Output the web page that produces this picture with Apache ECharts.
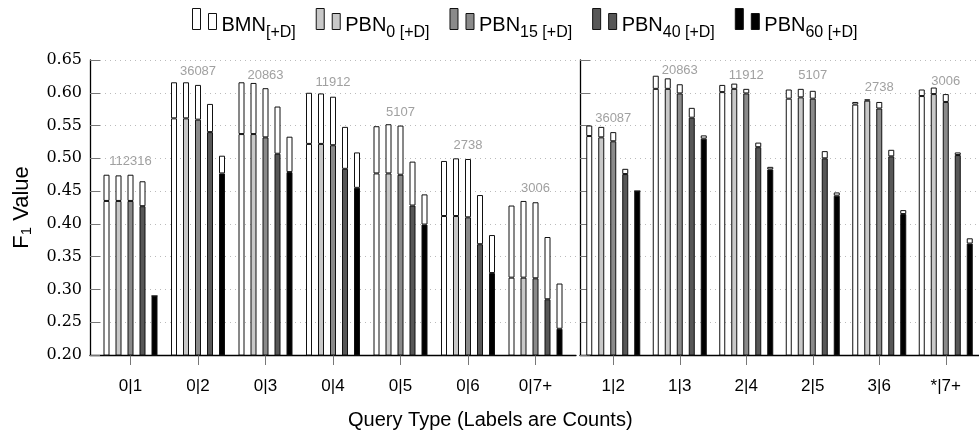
<!DOCTYPE html>
<html>
<head>
<meta charset="utf-8">
<script src="https://cdn.jsdelivr.net/npm/echarts@6/dist/echarts.min.js"></script>
<style>
  html, body { margin: 0; padding: 0; background: #fff; }
  #main { width: 979px; height: 436px; }
</style>
</head>
<body>
<div id="main"></div>
<script>
// query types of the two panels
const leftTypes = ['0|1', '0|2', '0|3', '0|4', '0|5', '0|6', '0|7+'];
const rightTypes = ['1|2', '1|3', '2|4', '2|5', '3|6', '*|7+'];
const leftCounts = [112316, 36087, 20863, 11912, 5107, 2738, 3006];
const rightCounts = [36087, 20863, 11912, 5107, 2738, 3006];
// height where the count label sits
const leftCountY = [0.495, 0.633, 0.627, 0.616, 0.570, 0.519, 0.454];
const rightCountY = [0.561, 0.634, 0.627, 0.626, 0.608, 0.618];

const names = ['BMN', 'PBN0', 'PBN15', 'PBN40', 'PBN60'];
const colors = ['#ffffff', '#c8c8c8', '#8a8a8a', '#575757', '#000000'];

// F1 value without [+D] (coloured part) and with [+D] (top of white part)
const bmnLeft = [0.435, 0.561, 0.537, 0.522, 0.477, 0.412, 0.318];
const bmnLeftD = [0.475, 0.616, 0.616, 0.600, 0.549, 0.496, 0.428];
const pbn0Left = [0.435, 0.561, 0.537, 0.522, 0.477, 0.412, 0.318];
const pbn0LeftD = [0.474, 0.616, 0.615, 0.599, 0.552, 0.500, 0.435];
const pbn15Left = [0.435, 0.559, 0.532, 0.520, 0.475, 0.410, 0.317];
const pbn15LeftD = [0.475, 0.612, 0.607, 0.594, 0.550, 0.499, 0.433];
const pbn40Left = [0.427, 0.540, 0.507, 0.484, 0.428, 0.369, 0.285];
const pbn40LeftD = [0.465, 0.583, 0.579, 0.548, 0.495, 0.444, 0.380];
const pbn60Left = [0.290, 0.477, 0.479, 0.455, 0.399, 0.325, 0.240];
const pbn60LeftD = [0.290, 0.504, 0.533, 0.509, 0.445, 0.383, 0.309];

const bmnRight = [0.534, 0.606, 0.601, 0.591, 0.582, 0.595];
const bmnRightD = [0.550, 0.626, 0.612, 0.605, 0.586, 0.605];
const pbn0Right = [0.532, 0.606, 0.606, 0.593, 0.588, 0.598];
const pbn0RightD = [0.548, 0.622, 0.614, 0.606, 0.590, 0.608];
const pbn15Right = [0.526, 0.599, 0.599, 0.591, 0.576, 0.586];
const pbn15RightD = [0.540, 0.613, 0.606, 0.603, 0.586, 0.598];
const pbn40Right = [0.476, 0.562, 0.517, 0.500, 0.503, 0.505];
const pbn40RightD = [0.484, 0.577, 0.524, 0.511, 0.513, 0.509];
const pbn60Right = [0.450, 0.530, 0.483, 0.443, 0.415, 0.370];
const pbn60RightD = [0.450, 0.535, 0.487, 0.448, 0.421, 0.378];

const panels = [
    {types: leftTypes, counts: leftCounts, countY: leftCountY,
     base: [bmnLeft, pbn0Left, pbn15Left, pbn40Left, pbn60Left],
     plus: [bmnLeftD, pbn0LeftD, pbn15LeftD, pbn40LeftD, pbn60LeftD]},
    {types: rightTypes, counts: rightCounts, countY: rightCountY,
     base: [bmnRight, pbn0Right, pbn15Right, pbn40Right, pbn60Right],
     plus: [bmnRightD, pbn0RightD, pbn15RightD, pbn40RightD, pbn60RightD]}
];

const legendText = {
    'BMN': '{m|BMN}{s|[+D]}',
    'PBN0': '{m|PBN}{s|0 [+D]}',
    'PBN15': '{m|PBN}{s|15 [+D]}',
    'PBN40': '{m|PBN}{s|40 [+D]}',
    'PBN60': '{m|PBN}{s|60 [+D]}'
};

const font = 'Liberation Sans';
const series = [];
panels.forEach(function (p, pi) {
    names.forEach(function (n, k) {
        // value first so that the stack goes on y
        series.push({
            type: 'bar', name: n, xAxisIndex: pi, yAxisIndex: pi,
            stack: 'p' + pi + 's' + k, barWidth: 6, barGap: '100%',
            encode: {x: 1, y: 0},
            itemStyle: {color: colors[k], borderColor: '#111', borderWidth: 1},
            data: p.base[k].map(function (v, i) { return [v, i]; })
        });
        series.push({
            type: 'bar', name: n + ' +D', xAxisIndex: pi, yAxisIndex: pi,
            stack: 'p' + pi + 's' + k, barWidth: 6, barGap: '100%',
            encode: {x: 1, y: 0},
            itemStyle: {color: '#ffffff', borderColor: '#111', borderWidth: 1},
            data: p.plus[k].map(function (v, i) { return [+(v - p.base[k][i]).toFixed(4), i]; })
        });
    });
    series.push({
        type: 'scatter', name: 'counts' + pi, xAxisIndex: pi, yAxisIndex: pi,
        symbolSize: 1, itemStyle: {color: 'rgba(0,0,0,0)'}, silent: true,
        label: {
            show: true, position: 'inside', color: '#888', fontSize: 13, fontFamily: font,
            formatter: function (d) { return String(p.counts[d.dataIndex]); }
        },
        data: p.countY.map(function (v, i) { return [i, v]; })
    });
});

const legendData = [];
names.forEach(function (n, k) {
    const st = {color: colors[k], borderColor: '#111', borderWidth: 1};
    legendData.push({name: n + ' +D', icon: 'rect', itemStyle: st});
    legendData.push({name: n, icon: 'path://M0,0M0,5L8,5L8,21L0,21Z', itemStyle: st});
});

function xAxisFor(types, min, max) {
    const idx = types.map(function (t, i) { return i; });
    return {
        type: 'value', gridIndex: types === leftTypes ? 0 : 1, min: min, max: max,
        axisLine: {show: true, onZero: false, lineStyle: {color: '#000', width: 1.3}},
        axisTick: {show: true, customValues: idx, length: 10, lineStyle: {color: '#777'}},
        axisLabel: {
            customValues: idx, margin: 23, color: '#000', fontSize: 17, fontFamily: font,
            formatter: function (v) { return types[Math.round(v)]; }
        },
        splitLine: {show: false}
    };
}

function yAxisFor(gi, showLabel) {
    const ax = {
        type: 'value', gridIndex: gi, min: 0.2, max: 0.65, interval: 0.05,
        axisLine: {show: true, onZero: false, lineStyle: {color: '#000', width: 1.3}},
        axisTick: {show: true, inside: true, length: 10, lineStyle: {color: '#777'}},
        axisLabel: {
            show: showLabel, margin: 8, color: '#000', fontSize: 16, fontFamily: 'DejaVu Serif',
            formatter: function (v) { return v.toFixed(2); }
        },
        splitLine: {show: true, lineStyle: {color: '#bbb', width: 1, type: [1, 4]}}
    };
    if (showLabel) {
        ax.name = '{a|F}{b|1}{a| Value}';
        ax.nameLocation = 'middle';
        ax.nameRotate = 90;
        ax.nameGap = 56;
        ax.nameTextStyle = {
            rich: {
                a: {fontSize: 22, fontFamily: font, color: '#000'},
                b: {fontSize: 15, fontFamily: font, color: '#000', padding: [10, 0, 0, 0]}
            }
        };
    }
    return ax;
}

const chart = echarts.init(document.getElementById('main'));
chart.setOption({
    animation: false,
    textStyle: {fontFamily: font},
    title: {
        text: 'Query Type (Labels are Counts)', left: 348, top: 410, padding: 0,
        textStyle: {fontSize: 20, fontWeight: 'normal', color: '#000', fontFamily: font}
    },
    legend: {
        left: 187, top: 2, itemWidth: 8, itemHeight: 21, itemGap: 7,
        selectedMode: false, data: legendData,
        formatter: function (name) { return legendText[name] || ''; },
        textStyle: {
            color: '#000',
            rich: {
                m: {fontSize: 20, fontFamily: font, color: '#000', verticalAlign: 'top', lineHeight: 24, padding: [8, 0, 0, 0]},
                s: {fontSize: 16, fontFamily: font, color: '#000', verticalAlign: 'top', lineHeight: 16, padding: [18, 13, 0, 0]}
            }
        }
    },
    grid: [
        {left: 90, top: 60, width: 486, height: 295},
        {left: 580, top: 60, width: 409, height: 295}
    ],
    xAxis: [xAxisFor(leftTypes, -0.6, 6.6), xAxisFor(rightTypes, -0.5, 5.5)],
    yAxis: [yAxisFor(0, true), yAxisFor(1, false)],
    series: series
});
</script>
</body>
</html>
